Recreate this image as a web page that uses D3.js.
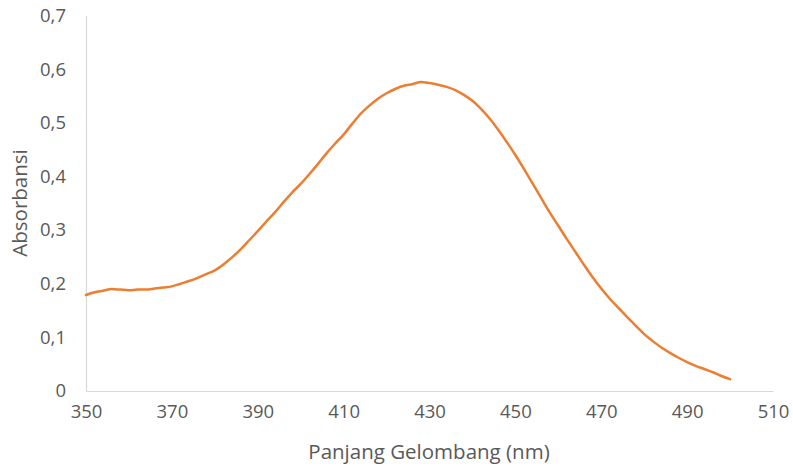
<!DOCTYPE html>
<html>
<head>
<meta charset="utf-8">
<script src="https://cdn.jsdelivr.net/npm/d3@7"></script>
<style>
  body { margin: 0; background: #fff; }
  text { font-family: "Open Sans", sans-serif; fill: #595959; }
</style>
</head>
<body>
<script>
var width = 793,
  height = 466;

// panjang gelombang (nm) dan absorbansi
var panjang = [350, 352, 354, 356, 358, 360, 362, 364, 366, 368, 370, 372, 374, 376, 378, 380,
  382, 384, 386, 388, 390, 392, 394, 396, 398, 400, 402, 404, 406, 408, 410, 412, 414, 416, 418,
  420, 422, 424, 426, 428, 430, 432, 434, 436, 438, 440, 442, 444, 446, 448, 450, 452, 454, 456,
  458, 460, 462, 464, 466, 468, 470, 472, 474, 476, 478, 480, 482, 484, 486, 488, 490, 492, 494,
  496, 498, 500];
var absorbansi = [0.179, 0.184, 0.187, 0.190, 0.189, 0.188, 0.189, 0.189, 0.191, 0.193, 0.195,
  0.200, 0.205, 0.211, 0.218, 0.225, 0.236, 0.249, 0.264, 0.281, 0.298, 0.316, 0.333, 0.352,
  0.370, 0.386, 0.404, 0.423, 0.443, 0.461, 0.478, 0.498, 0.517, 0.532, 0.545, 0.555, 0.563,
  0.569, 0.572, 0.576, 0.574, 0.571, 0.567, 0.561, 0.552, 0.541, 0.526, 0.508, 0.487, 0.464,
  0.440, 0.414, 0.387, 0.360, 0.333, 0.308, 0.283, 0.259, 0.235, 0.212, 0.191, 0.172, 0.155,
  0.138, 0.122, 0.106, 0.093, 0.081, 0.071, 0.062, 0.054, 0.047, 0.041, 0.035, 0.028, 0.022];

var xTicks = [350, 370, 390, 410, 430, 450, 470, 490, 510];
var yTicks = [0, 0.1, 0.2, 0.3, 0.4, 0.5, 0.6, 0.7];

var svg = d3.select("body")
  .append("svg")
  .attr("width", width)
  .attr("height", height);

var x = d3.scaleLinear().domain([350, 510]).range([86, 773]);
var y = d3.scaleLinear().domain([0, 0.7]).range([391, 15.5]);

var koma = function (d) {
  return d3.format(".1f")(d).replace(".", ",").replace(/^0,0$/, "0");
};

// sumbu x
var gx = svg.append("g")
  .attr("transform", "translate(0," + y(0) + ")")
  .call(d3.axisBottom(x).tickValues(xTicks).tickSize(0).tickPadding(14).tickFormat(d3.format("d")));
gx.select(".domain").attr("stroke", "#d9d9d9").attr("stroke-width", 1.2);
gx.selectAll("text").style("font-size", "18.5px").attr("fill", "#595959");

// sumbu y
var gy = svg.append("g")
  .attr("transform", "translate(" + x(350) + ",0)")
  .call(d3.axisLeft(y).tickValues(yTicks).tickSize(0).tickPadding(20).tickFormat(koma));
gy.select(".domain").attr("stroke", "#d9d9d9").attr("stroke-width", 1.2);
gy.selectAll("text").style("font-size", "18.5px").attr("fill", "#595959");

var data = panjang.map(function (d, i) {
  return { nm: d, a: absorbansi[i] };
});

var garis = d3.line()
  .curve(d3.curveMonotoneX)
  .x(function (d) { return x(d.nm); })
  .y(function (d) { return y(d.a); });

svg.append("path")
  .datum(data)
  .attr("d", garis)
  .attr("fill", "none")
  .attr("stroke", "#ED7D31")
  .attr("stroke-width", 2.5)
  .attr("stroke-linejoin", "round")
  .attr("stroke-linecap", "round");

svg.append("text")
  .attr("x", 429)
  .attr("y", 459)
  .attr("text-anchor", "middle")
  .style("font-size", "20.5px")
  .text("Panjang Gelombang (nm)");

svg.append("text")
  .attr("transform", "translate(27,203) rotate(-90)")
  .attr("text-anchor", "middle")
  .style("font-size", "20.5px")
  .text("Absorbansi");
</script>
</body>
</html>
